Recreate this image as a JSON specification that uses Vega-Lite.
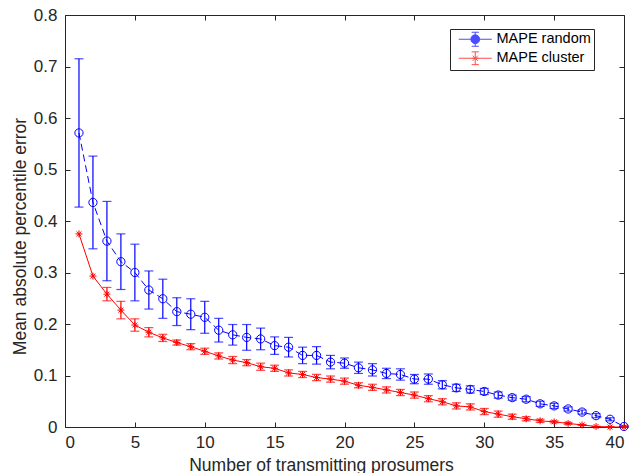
{
  "$schema": "https://vega.github.io/schema/vega-lite/v6.json",
  "autosize": "none",
  "width": 559,
  "height": 412,
  "padding": {"left": 65, "top": 15, "right": 9, "bottom": 46},
  "background": "white",
  "config": {
    "view": {"stroke": null},
    "axis": {
      "domainColor": "#262626", "tickColor": "#262626", "labelColor": "#262626", "titleColor": "#262626",
      "labelFont": "Liberation Sans", "titleFont": "Liberation Sans", "labelFontSize": 17, "titleFontSize": 17.5,
      "titleFontWeight": "normal", "grid": false, "tickSize": -5, "domainWidth": 1, "tickWidth": 1
    },
    "legend": {"labelFont": "Liberation Sans", "labelFontSize": 14.5, "labelColor": "#000000"}
  },
  "datasets": {
    "pts": [
      {"n": 1, "series": "MAPE random", "mape": 0.571, "lo": 0.427, "hi": 0.715},
      {"n": 2, "series": "MAPE random", "mape": 0.436, "lo": 0.346, "hi": 0.526},
      {"n": 3, "series": "MAPE random", "mape": 0.361, "lo": 0.284, "hi": 0.438},
      {"n": 4, "series": "MAPE random", "mape": 0.321, "lo": 0.267, "hi": 0.375},
      {"n": 5, "series": "MAPE random", "mape": 0.300, "lo": 0.245, "hi": 0.355},
      {"n": 6, "series": "MAPE random", "mape": 0.266, "lo": 0.229, "hi": 0.303},
      {"n": 7, "series": "MAPE random", "mape": 0.249, "lo": 0.211, "hi": 0.287},
      {"n": 8, "series": "MAPE random", "mape": 0.224, "lo": 0.197, "hi": 0.251},
      {"n": 9, "series": "MAPE random", "mape": 0.219, "lo": 0.189, "hi": 0.249},
      {"n": 10, "series": "MAPE random", "mape": 0.213, "lo": 0.182, "hi": 0.244},
      {"n": 11, "series": "MAPE random", "mape": 0.188, "lo": 0.165, "hi": 0.211},
      {"n": 12, "series": "MAPE random", "mape": 0.179, "lo": 0.159, "hi": 0.199},
      {"n": 13, "series": "MAPE random", "mape": 0.174, "lo": 0.149, "hi": 0.199},
      {"n": 14, "series": "MAPE random", "mape": 0.171, "lo": 0.150, "hi": 0.192},
      {"n": 15, "series": "MAPE random", "mape": 0.158, "lo": 0.141, "hi": 0.175},
      {"n": 16, "series": "MAPE random", "mape": 0.155, "lo": 0.136, "hi": 0.174},
      {"n": 17, "series": "MAPE random", "mape": 0.139, "lo": 0.123, "hi": 0.155},
      {"n": 18, "series": "MAPE random", "mape": 0.139, "lo": 0.122, "hi": 0.156},
      {"n": 19, "series": "MAPE random", "mape": 0.126, "lo": 0.113, "hi": 0.139},
      {"n": 20, "series": "MAPE random", "mape": 0.124, "lo": 0.114, "hi": 0.134},
      {"n": 21, "series": "MAPE random", "mape": 0.115, "lo": 0.104, "hi": 0.126},
      {"n": 22, "series": "MAPE random", "mape": 0.111, "lo": 0.099, "hi": 0.123},
      {"n": 23, "series": "MAPE random", "mape": 0.104, "lo": 0.094, "hi": 0.114},
      {"n": 24, "series": "MAPE random", "mape": 0.102, "lo": 0.091, "hi": 0.113},
      {"n": 25, "series": "MAPE random", "mape": 0.093, "lo": 0.084, "hi": 0.102},
      {"n": 26, "series": "MAPE random", "mape": 0.093, "lo": 0.083, "hi": 0.103},
      {"n": 27, "series": "MAPE random", "mape": 0.082, "lo": 0.074, "hi": 0.090},
      {"n": 28, "series": "MAPE random", "mape": 0.076, "lo": 0.069, "hi": 0.083},
      {"n": 29, "series": "MAPE random", "mape": 0.073, "lo": 0.066, "hi": 0.080},
      {"n": 30, "series": "MAPE random", "mape": 0.069, "lo": 0.063, "hi": 0.075},
      {"n": 31, "series": "MAPE random", "mape": 0.062, "lo": 0.056, "hi": 0.068},
      {"n": 32, "series": "MAPE random", "mape": 0.057, "lo": 0.052, "hi": 0.062},
      {"n": 33, "series": "MAPE random", "mape": 0.054, "lo": 0.049, "hi": 0.059},
      {"n": 34, "series": "MAPE random", "mape": 0.045, "lo": 0.040, "hi": 0.050},
      {"n": 35, "series": "MAPE random", "mape": 0.041, "lo": 0.036, "hi": 0.046},
      {"n": 36, "series": "MAPE random", "mape": 0.035, "lo": 0.031, "hi": 0.039},
      {"n": 37, "series": "MAPE random", "mape": 0.029, "lo": 0.025, "hi": 0.033},
      {"n": 38, "series": "MAPE random", "mape": 0.022, "lo": 0.018, "hi": 0.026},
      {"n": 39, "series": "MAPE random", "mape": 0.015, "lo": 0.012, "hi": 0.018},
      {"n": 40, "series": "MAPE random", "mape": 0.001, "lo": 0.000, "hi": 0.002},
      {"n": 1, "series": "MAPE cluster", "mape": 0.375, "lo": null, "hi": null},
      {"n": 2, "series": "MAPE cluster", "mape": 0.293, "lo": null, "hi": null},
      {"n": 3, "series": "MAPE cluster", "mape": 0.258, "lo": 0.245, "hi": 0.271},
      {"n": 4, "series": "MAPE cluster", "mape": 0.227, "lo": 0.210, "hi": 0.244},
      {"n": 5, "series": "MAPE cluster", "mape": 0.198, "lo": 0.186, "hi": 0.210},
      {"n": 6, "series": "MAPE cluster", "mape": 0.184, "lo": 0.175, "hi": 0.193},
      {"n": 7, "series": "MAPE cluster", "mape": 0.173, "lo": 0.166, "hi": 0.180},
      {"n": 8, "series": "MAPE cluster", "mape": 0.164, "lo": 0.159, "hi": 0.169},
      {"n": 9, "series": "MAPE cluster", "mape": 0.156, "lo": 0.150, "hi": 0.162},
      {"n": 10, "series": "MAPE cluster", "mape": 0.147, "lo": 0.141, "hi": 0.153},
      {"n": 11, "series": "MAPE cluster", "mape": 0.138, "lo": 0.132, "hi": 0.144},
      {"n": 12, "series": "MAPE cluster", "mape": 0.130, "lo": 0.123, "hi": 0.137},
      {"n": 13, "series": "MAPE cluster", "mape": 0.125, "lo": 0.119, "hi": 0.131},
      {"n": 14, "series": "MAPE cluster", "mape": 0.117, "lo": 0.110, "hi": 0.124},
      {"n": 15, "series": "MAPE cluster", "mape": 0.114, "lo": 0.108, "hi": 0.120},
      {"n": 16, "series": "MAPE cluster", "mape": 0.105, "lo": 0.099, "hi": 0.111},
      {"n": 17, "series": "MAPE cluster", "mape": 0.102, "lo": 0.096, "hi": 0.108},
      {"n": 18, "series": "MAPE cluster", "mape": 0.096, "lo": 0.090, "hi": 0.102},
      {"n": 19, "series": "MAPE cluster", "mape": 0.093, "lo": 0.087, "hi": 0.099},
      {"n": 20, "series": "MAPE cluster", "mape": 0.089, "lo": 0.083, "hi": 0.095},
      {"n": 21, "series": "MAPE cluster", "mape": 0.081, "lo": 0.076, "hi": 0.086},
      {"n": 22, "series": "MAPE cluster", "mape": 0.077, "lo": 0.071, "hi": 0.083},
      {"n": 23, "series": "MAPE cluster", "mape": 0.072, "lo": 0.066, "hi": 0.078},
      {"n": 24, "series": "MAPE cluster", "mape": 0.067, "lo": 0.061, "hi": 0.073},
      {"n": 25, "series": "MAPE cluster", "mape": 0.062, "lo": 0.056, "hi": 0.068},
      {"n": 26, "series": "MAPE cluster", "mape": 0.055, "lo": 0.049, "hi": 0.061},
      {"n": 27, "series": "MAPE cluster", "mape": 0.049, "lo": 0.043, "hi": 0.055},
      {"n": 28, "series": "MAPE cluster", "mape": 0.041, "lo": 0.035, "hi": 0.047},
      {"n": 29, "series": "MAPE cluster", "mape": 0.039, "lo": 0.033, "hi": 0.045},
      {"n": 30, "series": "MAPE cluster", "mape": 0.030, "lo": 0.024, "hi": 0.036},
      {"n": 31, "series": "MAPE cluster", "mape": 0.025, "lo": 0.019, "hi": 0.031},
      {"n": 32, "series": "MAPE cluster", "mape": 0.020, "lo": 0.015, "hi": 0.025},
      {"n": 33, "series": "MAPE cluster", "mape": 0.016, "lo": 0.012, "hi": 0.020},
      {"n": 34, "series": "MAPE cluster", "mape": 0.012, "lo": 0.009, "hi": 0.015},
      {"n": 35, "series": "MAPE cluster", "mape": 0.010, "lo": 0.008, "hi": 0.012},
      {"n": 36, "series": "MAPE cluster", "mape": 0.007, "lo": 0.005, "hi": 0.009},
      {"n": 37, "series": "MAPE cluster", "mape": 0.004, "lo": 0.003, "hi": 0.005},
      {"n": 38, "series": "MAPE cluster", "mape": 0.001, "lo": 0.001, "hi": 0.001},
      {"n": 39, "series": "MAPE cluster", "mape": 0.000, "lo": 0.000, "hi": 0.000},
      {"n": 40, "series": "MAPE cluster", "mape": 0.000, "lo": 0.000, "hi": 0.000}
    ]
  },
  "data": {"name": "pts"},
  "resolve": {"axis": {"x": "independent", "y": "independent"}},
  "layer": [
    {
      "transform": [{"filter": "datum.series === 'MAPE random'"}],
      "mark": {"type": "line", "color": "#0000ff", "strokeWidth": 1, "strokeDash": [7, 4]},
      "encoding": {
        "x": {"field": "n", "type": "quantitative", "scale": {"domain": [0, 40], "nice": false},
          "axis": {"orient": "bottom", "values": [0,5,10,15,20,25,30,35,40], "labelFontSize": 17, "title": "Number of transmitting prosumers", "labelPadding": 12, "titleX": 256, "titleY": 43, "titleBaseline": "alphabetic"}},
        "y": {"field": "mape", "type": "quantitative", "scale": {"domain": [0, 0.8], "nice": false},
          "axis": {"orient": "left", "values": [0,0.1,0.2,0.3,0.4,0.5,0.6,0.7,0.8], "format": "~g", "labelFontSize": 17, "title": "Mean absolute percentile error", "labelPadding": 13, "titleX": -40, "titleY": 221, "titleBaseline": "alphabetic"}}
      }
    },
    {
      "transform": [{"filter": "datum.series === 'MAPE cluster'"}],
      "mark": {"type": "line", "color": "#ff0000", "strokeWidth": 1},
      "encoding": {
        "x": {"field": "n", "type": "quantitative", "axis": {"orient": "top", "values": [0,5,10,15,20,25,30,35,40], "labels": false, "title": null}},
        "y": {"field": "mape", "type": "quantitative", "axis": {"orient": "right", "values": [0,0.1,0.2,0.3,0.4,0.5,0.6,0.7,0.8], "labels": false, "title": null}}
      }
    },
    {
      "mark": {"type": "rule", "strokeWidth": 1.2},
      "encoding": {
        "x": {"field": "n", "type": "quantitative", "axis": null},
        "y": {"field": "lo", "type": "quantitative", "axis": null},
        "y2": {"field": "hi"},
        "color": {"field": "series", "type": "nominal", "scale": {"domain": ["MAPE random", "MAPE cluster"], "range": ["#0000ff", "#ff0000"]}}
      }
    },
    {
      "mark": {"type": "tick", "orient": "horizontal", "size": 9, "thickness": 1.2},
      "encoding": {
        "x": {"field": "n", "type": "quantitative", "axis": null},
        "y": {"field": "lo", "type": "quantitative", "axis": null},
        "color": {"field": "series", "type": "nominal"}
      }
    },
    {
      "mark": {"type": "tick", "orient": "horizontal", "size": 9, "thickness": 1.2},
      "encoding": {
        "x": {"field": "n", "type": "quantitative", "axis": null},
        "y": {"field": "hi", "type": "quantitative", "axis": null},
        "color": {"field": "series", "type": "nominal"}
      }
    },
    {
      "transform": [{"filter": "datum.series === 'MAPE random'"}],
      "mark": {"type": "point", "shape": "circle", "filled": false, "size": 68, "color": "#0000ff", "strokeWidth": 1, "opacity": 1},
      "encoding": {
        "x": {"field": "n", "type": "quantitative", "axis": null},
        "y": {"field": "mape", "type": "quantitative", "axis": null}
      }
    },
    {
      "transform": [{"filter": "datum.series === 'MAPE cluster'"}],
      "mark": {"type": "point", "shape": "M-1,0H1M0,-1V1M-0.7,-0.7L0.7,0.7M-0.7,0.7L0.7,-0.7", "filled": false, "size": 49, "color": "#ff0000", "strokeWidth": 1, "opacity": 1},
      "encoding": {
        "x": {"field": "n", "type": "quantitative", "axis": null},
        "y": {"field": "mape", "type": "quantitative", "axis": null}
      }
    },
    {
      "mark": {"type": "point", "filled": false, "size": 64, "strokeWidth": 1, "opacity": 0},
      "encoding": {
        "x": {"field": "n", "type": "quantitative", "axis": null},
        "y": {"field": "mape", "type": "quantitative", "axis": null},
        "color": {"field": "series", "type": "nominal",
          "legend": {"orient": "none", "legendX": 385, "legendY": 14, "title": null, "strokeColor": "#262626", "fillColor": "white", "padding": 3, "symbolSize": 64, "symbolOffset": 15, "labelOffset": 14, "rowPadding": 0, "symbolStrokeWidth": 1,
            "encode": {"symbols": {"update": {"opacity": {"value": 1}, "fill": {"value": "transparent"}, "strokeWidth": {"value": 0.9}}}}}},
        "shape": {"field": "series", "type": "nominal",
          "scale": {"domain": ["MAPE random", "MAPE cluster"], "range": [
            "M-4.125,0H-1.1M1.1,0H4.125M-1.1,0A1.1,1.1 0 1,1 1.1,0A1.1,1.1 0 1,1 -1.1,0M0,-1.75V1.75M-0.9,-1.75H0.9M-0.9,1.75H0.9",
            "M-4.125,0H4.125M0,-1.6V1.6M-0.9,-1.6H0.9M-0.9,1.6H0.9M-0.9,0H0.9M-0.64,-0.64L0.64,0.64M-0.64,0.64L0.64,-0.64"]},
          "legend": {"orient": "none", "legendX": 385, "legendY": 14, "title": null, "strokeColor": "#262626", "fillColor": "white", "padding": 3, "symbolSize": 64, "symbolOffset": 15, "labelOffset": 14, "rowPadding": 0, "symbolStrokeWidth": 1,
            "encode": {"symbols": {"update": {"opacity": {"value": 1}, "fill": {"value": "transparent"}, "strokeWidth": {"value": 0.9}}}}}}
      }
    }
  ]
}
